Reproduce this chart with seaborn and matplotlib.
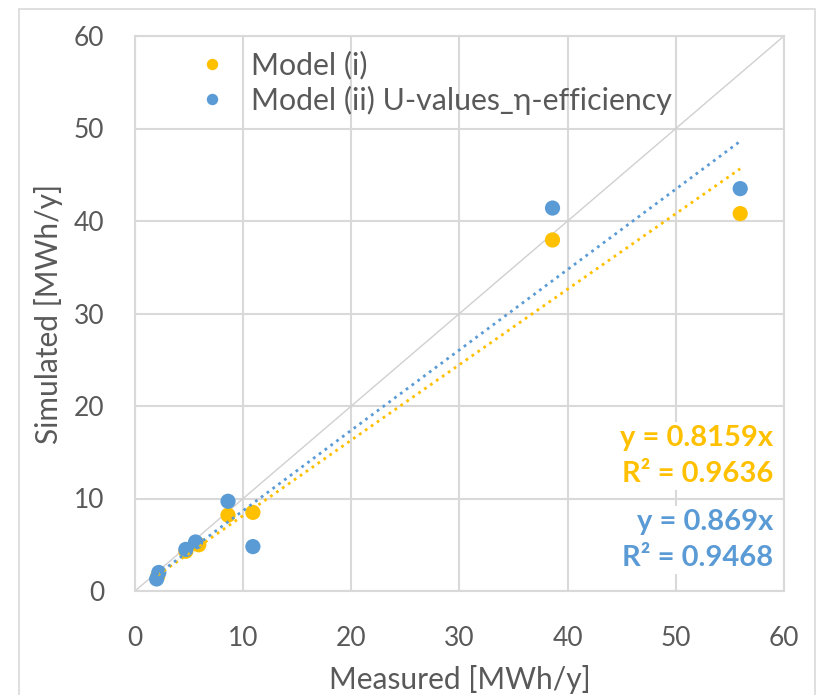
import matplotlib
matplotlib.use("Agg")
import matplotlib.pyplot as plt
import seaborn as sns
import numpy as np
import pandas as pd

# Data
measured_i = [2.1, 4.7, 5.9, 8.6, 10.9, 38.6, 55.95]
simulated_i = [1.6, 4.3, 5.0, 8.2, 8.5, 37.95, 40.8]
measured_ii = [2.0, 2.2, 4.7, 5.6, 8.6, 10.9, 38.6, 55.95]
simulated_ii = [1.3, 2.0, 4.5, 5.3, 9.7, 4.8, 41.4, 43.5]
series_names = ["Model (i)", "Model (ii) U-values_\u03b7-efficiency"]
slopes = [0.8159, 0.869]
r2_values = [0.9636, 0.9468]
ticks = [0, 10, 20, 30, 40, 50, 60]

colors = ["#FFC000", "#5B9BD5"]

df = pd.DataFrame({
    "Measured": measured_i + measured_ii,
    "Simulated": simulated_i + simulated_ii,
    "Series": [series_names[0]] * len(measured_i) + [series_names[1]] * len(measured_ii),
})

sns.set_theme(style="white")
plt.rcParams["font.family"] = ["Lato", "DejaVu Sans"]

fig = plt.figure(figsize=(8.19, 6.95), dpi=100)
ax = fig.add_axes([135 / 819, 1 - 591 / 695, (784 - 135) / 819, (591 - 36) / 695])

grid_c = "#D9D9D9"
ax.set_xlim(0, 60)
ax.set_ylim(0, 60)
ax.set_xticks(ticks)
ax.set_yticks(ticks)
ax.grid(True, color=grid_c, linewidth=1.5, zorder=0)
ax.set_axisbelow(True)
for s in ax.spines.values():
    s.set_color(grid_c)
    s.set_linewidth(1.5)

# diagonal y = x
ax.plot([0, 60], [0, 60], color="#D0D0D0", linewidth=1.0, zorder=1)

sns.scatterplot(data=df, x="Measured", y="Simulated", hue="Series",
                palette=dict(zip(series_names, colors)), s=120, edgecolor="none",
                ax=ax, zorder=3, legend=True)

# trendlines through origin
mx = [measured_i, measured_ii]
for k in range(2):
    xs = np.array([min(mx[k]), max(mx[k])])
    ax.plot(xs, slopes[k] * xs, linestyle=(0, (1, 1.6)), color=colors[k],
            linewidth=2.0, zorder=4)

ax.tick_params(axis="both", labelsize=19, labelcolor="#595959", length=0)
ax.tick_params(axis="x", pad=25)
ax.tick_params(axis="y", pad=22)
ax.set_xlabel("Measured [MWh/y]", fontsize=21.5, color="#595959", labelpad=10)
ax.set_ylabel("Simulated [MWh/y]", fontsize=21.5, color="#595959", labelpad=8)

leg = ax.legend(loc="upper left", bbox_to_anchor=(0.054, 0.995), frameon=False,
                fontsize=21.8, handletextpad=0.28, labelspacing=0.2,
                markerscale=0.75, borderaxespad=0)
for t in leg.get_texts():
    t.set_color("#595959")

# equation labels
bb = dict(facecolor="white", edgecolor="none", pad=2)
ax.text(0.983, 0.243, f"y = {slopes[0]}x\nR\u00b2 = {r2_values[0]}", transform=ax.transAxes,
        ha="right", va="center", fontsize=21, fontweight="bold", color=colors[0],
        linespacing=1.5, bbox=bb, zorder=5)
ax.text(0.983, 0.092, f"y = {slopes[1]}x\nR\u00b2 = {r2_values[1]}", transform=ax.transAxes,
        ha="right", va="center", fontsize=21, fontweight="bold", color=colors[1],
        linespacing=1.5, bbox=bb, zorder=5)

# chart border
fig.patches.append(plt.Rectangle((19 / 819, -0.01), (815 - 19) / 819, 1 - 9 / 695 + 0.01,
                                 transform=fig.transFigure, fill=False,
                                 edgecolor="#D9D9D9", linewidth=1.2))

fig.savefig("out.png", dpi=100)
